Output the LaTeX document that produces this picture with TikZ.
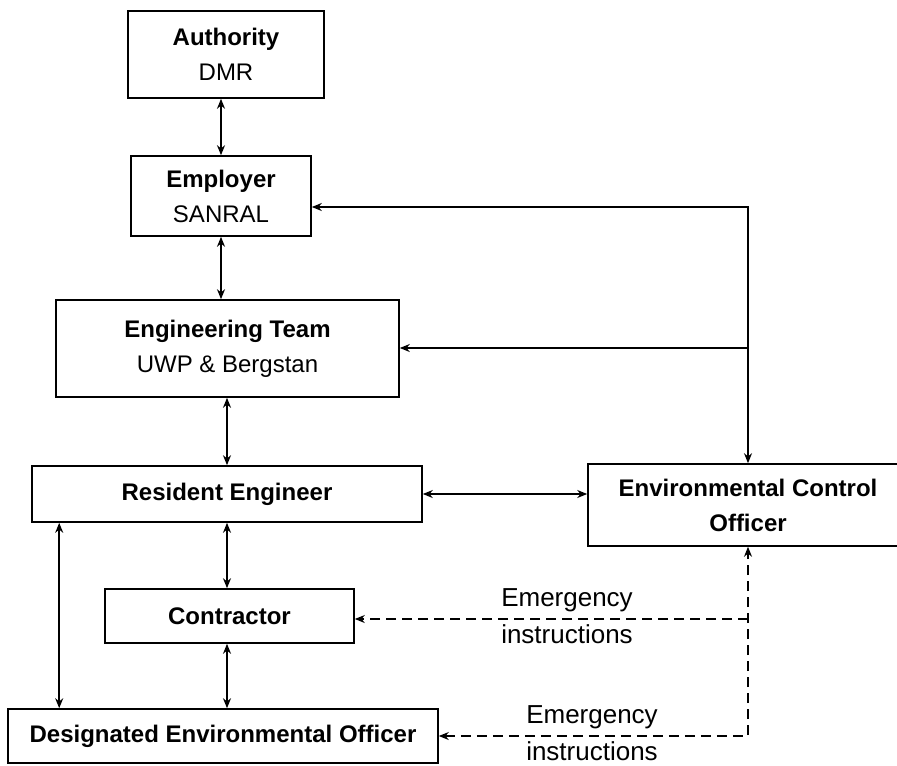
\documentclass[tikz,border=0pt]{standalone}
\usepackage{fontspec}
\setmainfont{Liberation Sans}
\usepackage{tikz}
\usetikzlibrary{arrows.meta,positioning}

\begin{document}
\begin{tikzpicture}[x=0.5pt,y=-0.5pt]
  \tikzset{
    >={Stealth[length=5pt,width=4pt]},
    every path/.style={line width=0.8pt},
    box/.style={draw, inner sep=0pt, align=center,
          font=\fontsize{12}{17.5}\selectfont},
    note/.style={align=center, font=\fontsize{13}{18.5}\selectfont}
  }
  \useasboundingbox (0,0) rectangle (897,765);

  \node[box,minimum width=98pt,minimum height=43.5pt] (auth) at (226,54.5)
        {\textbf{Authority}\\DMR};
  \node[box,minimum width=90pt,minimum height=40pt] (emp) at (221,196)
        {\textbf{Employer}\\SANRAL};
  \node[box,minimum width=171.5pt,minimum height=48.5pt] (eng) at (227.5,348.5)
        {\textbf{Engineering Team}\\UWP \& Bergstan};
  \node[box,minimum width=195pt,minimum height=28pt] (re) at (227,494)
        {\textbf{Resident Engineer}};
  \node[box,minimum width=160pt,minimum height=41pt] (eco) at (748,505)
        {\textbf{Environmental Control}\\\textbf{Officer}};
  \node[box,minimum width=124.5pt,minimum height=27pt] (con) at (229.5,616)
        {\textbf{Contractor}};
  \node[box,minimum width=215pt,minimum height=27pt] (deo) at (223,736)
        {\textbf{Designated Environmental Officer}};

  \coordinate (top) at (748,207);
  \coordinate (mid) at (748,348);
  \coordinate (emg) at (748,619);
  \coordinate (bot) at (748,736);

  \draw[<->] (auth.south -| emp) -- (emp.north);
  \draw[<->] (emp.south) -- (emp.south |- eng.north);
  \draw[<->] (eng.south -| re) -- (re.north);
  \draw[<->] (re.south) -- (re.south |- con.north);
  \draw[<->] (con.south -| re) -- (re |- deo.north);
  \draw[<->] ([xshift=14pt]re.south west) -- ([xshift=14pt]re.south west |- deo.north);
  \draw[<->] (re.east) -- (re.east -| eco.west);

  \draw[<->] (top -| emp.east) -- (top) -- (eco.north);
  \draw[->] (mid) -- (mid -| eng.east);

  \draw[<->,dash pattern=on 5pt off 3pt] (bot -| deo.east) -- (bot) -- (eco.south);
  \draw[->,dash pattern=on 5pt off 3pt] (emg) -- (emg -| con.east);

  \node[note] (em1) at (567,616.5) {Emergency\\instructions};
  \node[note] (em2) at (592,733.5) {Emergency\\instructions};
\end{tikzpicture}
\end{document}
